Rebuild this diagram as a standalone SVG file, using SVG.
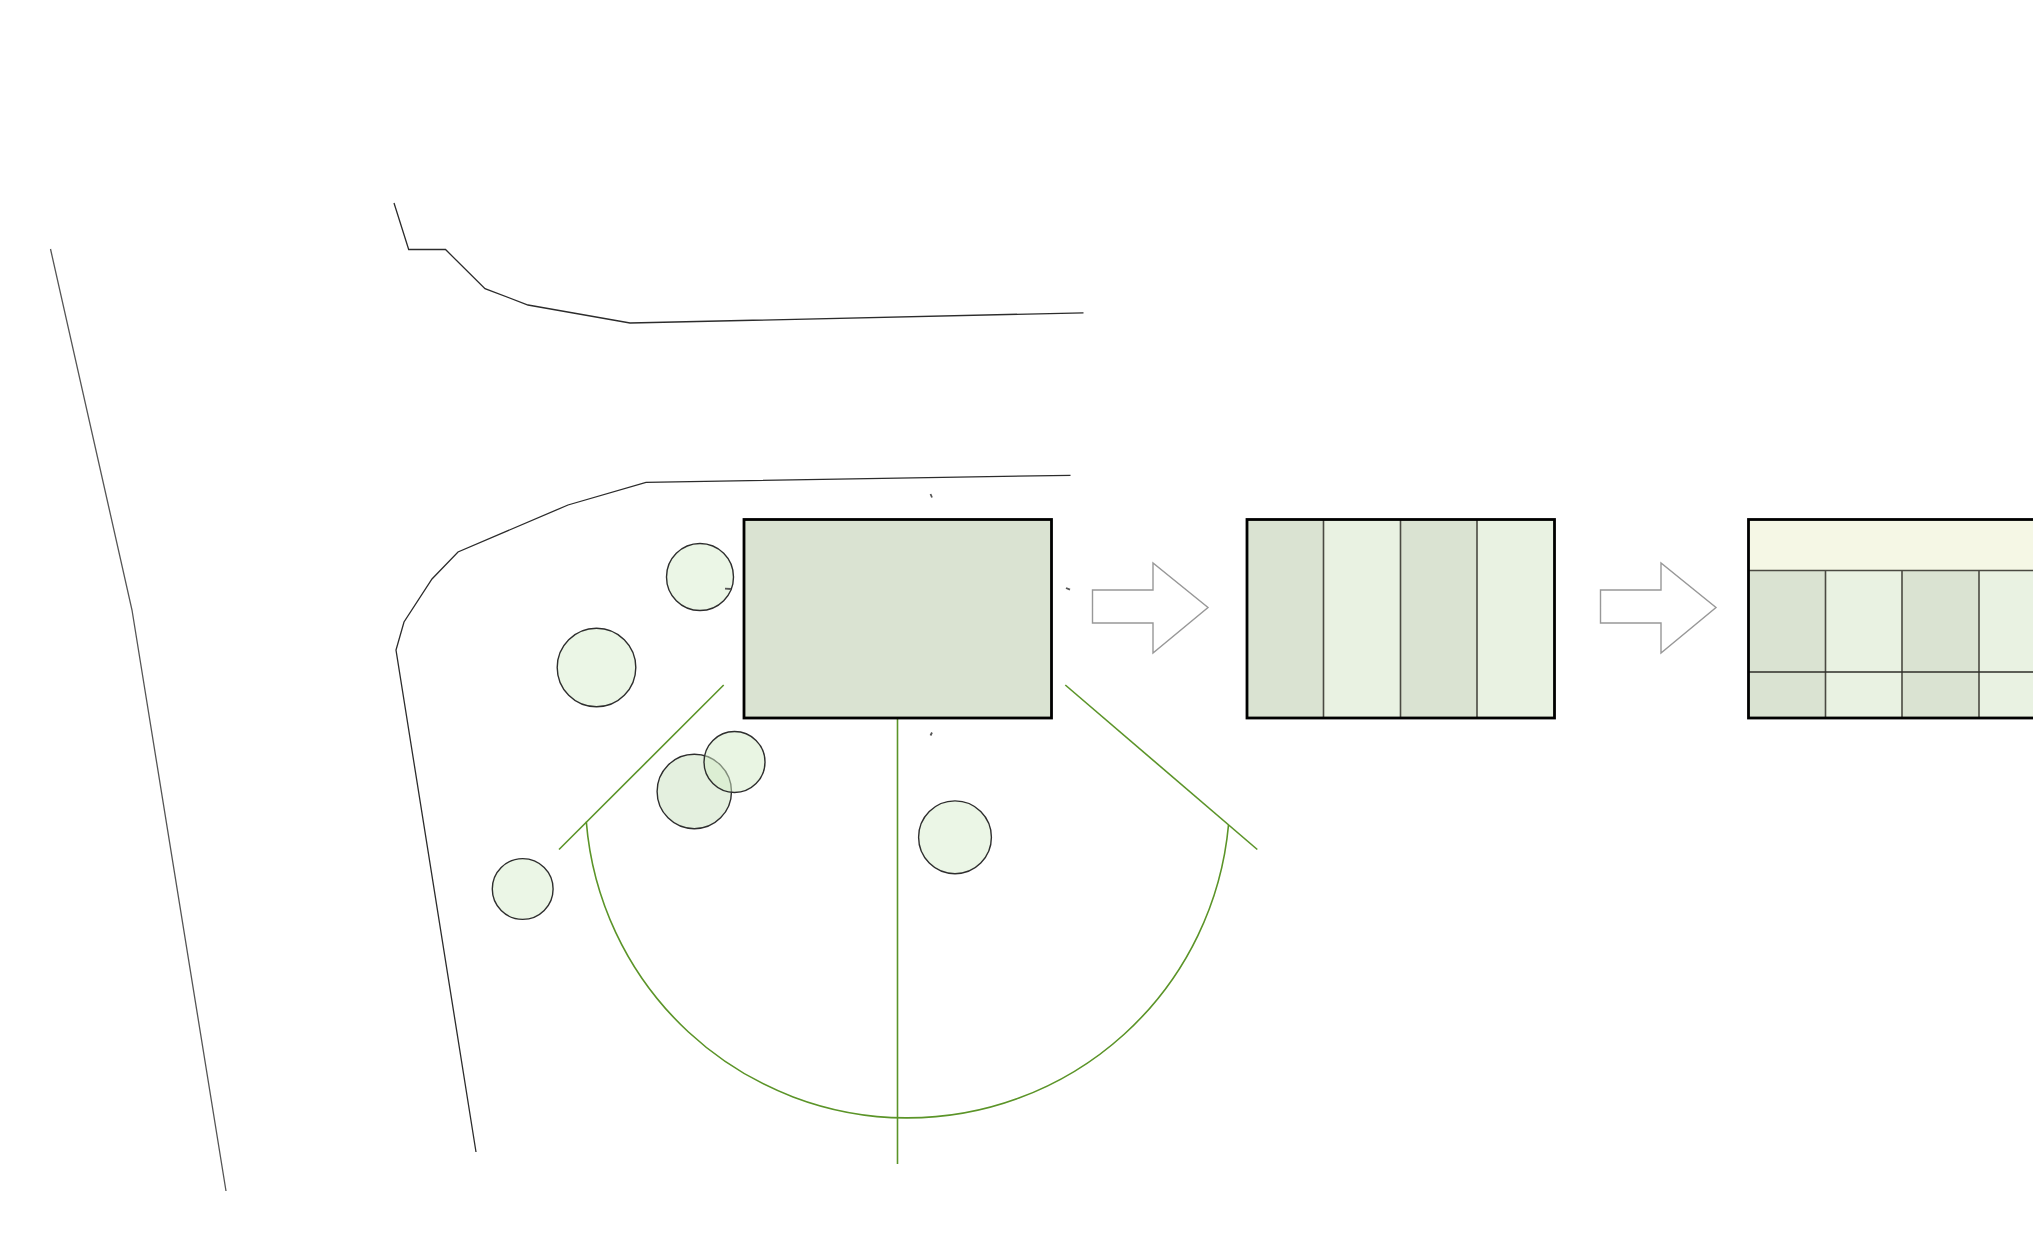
<svg xmlns="http://www.w3.org/2000/svg" width="2033" height="1254" viewBox="0 0 2033 1254">
<style>
.road{fill:none;stroke:#2c2c2c;stroke-width:1.3}
.tree{fill:#ebf6e6;stroke:#2e2e2e;stroke-width:1.4}
.green{fill:none;stroke:#5b9428;stroke-width:1.6}
.arrow{fill:#fff;stroke:#989898;stroke-width:1.4}
.frame{fill:none;stroke:#000;stroke-width:2.8}
.dark{fill:#dae3d2}
.light{fill:#e9f2e2}
.band{fill:#f5f7e5}
.div{fill:none;stroke:#4a4a42;stroke-width:1.6}
.mark{fill:none;stroke:#555;stroke-width:1.8}
</style>
<rect width="2033" height="1254" fill="#fff"/>
<g id="connectors">
<polyline id="road-top" class="road" points="394,203 408.7,249.5 445.5,249.5 485,288.7 528,305 630,323 1083.5,312.8"/>
<polyline id="road-lower" class="road" points="1070.5,475.3 646,482.3 568,505 458,552 432,579 404,622 396,650 476,1152"/>
<polyline id="road-left" class="road" style="stroke:#555" points="50.5,249 132,610 226,1191"/>
<line class="green" x1="559" y1="849.5" x2="723.7" y2="685"/>
<line class="green" x1="1065.3" y1="685" x2="1257.3" y2="849.5"/>
<line class="green" x1="897.5" y1="718" x2="897.5" y2="1164"/>
<path class="green" d="M586.3,821.7 A322.3,322.3 0 0 0 1228.5,825"/>
</g>
<g id="tree-1"><circle class="tree" cx="700" cy="577" r="33.5"/></g>
<g id="tree-2"><circle class="tree" cx="596.5" cy="667.5" r="39.3"/></g>
<g id="tree-3"><circle class="tree" cx="694.3" cy="791.5" r="37.2" style="fill:#e4f0df"/></g>
<g id="tree-4"><circle class="tree" cx="734.5" cy="762" r="30.5" style="fill:#d4ecc8;fill-opacity:.5"/></g>
<g id="tree-5"><circle class="tree" cx="522.7" cy="889" r="30.4"/></g>
<g id="tree-6"><circle class="tree" cx="955" cy="837.3" r="36.4"/></g>
<g id="marks">
<path class="mark" d="M930.5,494 L932,497.5"/>
<path class="mark" d="M725,588.7 L731,589"/>
<path class="mark" d="M1066,588 L1070,589.7"/>
<path class="mark" d="M932,732.5 L930.5,735.5"/>
</g>
<g id="plan-1">
<rect class="dark" x="744" y="519.5" width="307.5" height="198.5"/>
<rect class="frame" x="744" y="519.5" width="307.5" height="198.5"/>
</g>
<g id="arrow-1"><polygon class="arrow" points="1092.5,590 1153,590 1153,563 1208,607.5 1153,653 1153,623 1092.5,623"/></g>
<g id="plan-2">
<rect class="dark" x="1247" y="519.5" width="76.5" height="198.5"/>
<rect class="light" x="1323.5" y="519.5" width="77" height="198.5"/>
<rect class="dark" x="1400.5" y="519.5" width="77" height="198.5"/>
<rect class="light" x="1477.5" y="519.5" width="77" height="198.5"/>
<path class="div" d="M1323.5,519.5V718M1400.5,519.5V718M1477,519.5V718"/>
<rect class="frame" x="1247" y="519.5" width="307.5" height="198.5"/>
</g>
<g id="arrow-2"><polygon class="arrow" points="1600.5,590 1661,590 1661,563 1716,607.5 1661,653 1661,623 1600.5,623"/></g>
<g id="plan-3">
<rect class="band" x="1748.5" y="519.5" width="290" height="51"/>
<rect class="dark" x="1748.5" y="570.5" width="77" height="147.5"/>
<rect class="light" x="1825.5" y="570.5" width="76.5" height="147.5"/>
<rect class="dark" x="1902" y="570.5" width="77" height="147.5"/>
<rect class="light" x="1979" y="570.5" width="60" height="147.5"/>
<path class="div" d="M1748.5,570.5H2040M1825.5,570.5V718M1902,570.5V718M1979,570.5V718"/>
<path d="M1748.5,672H2040" fill="none" stroke="#2e2e28" stroke-width="1.6"/>
<rect class="frame" x="1748.5" y="519.5" width="308" height="198.5"/>
</g>
</svg>
